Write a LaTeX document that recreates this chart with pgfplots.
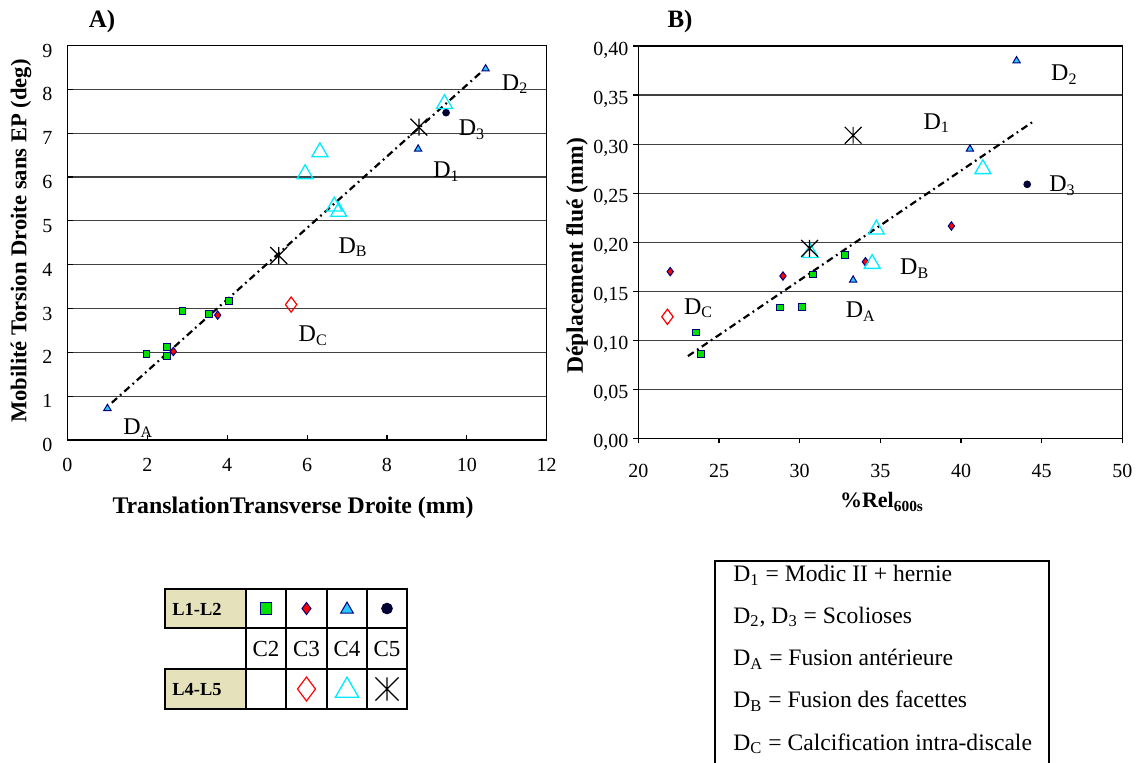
\documentclass[border=0pt]{standalone}
\usepackage{fontspec}
\setmainfont{Liberation Serif}
\usepackage{pgfplots}
\pgfplotsset{compat=1.18}

\definecolor{mgreen}{RGB}{0,225,0}
\definecolor{navyb}{RGB}{0,0,128}
\definecolor{tricyan}{RGB}{40,200,255}
\definecolor{dotnavy}{RGB}{0,0,50}
\definecolor{opcyan}{RGB}{0,235,255}
\definecolor{beige}{RGB}{228,225,187}

% asterisk as in the original: an X with a vertical bar
\pgfdeclareplotmark{xast}{%
  \pgfpathmoveto{\pgfqpoint{-\pgfplotmarksize}{-\pgfplotmarksize}}%
  \pgfpathlineto{\pgfqpoint{\pgfplotmarksize}{\pgfplotmarksize}}%
  \pgfpathmoveto{\pgfqpoint{-\pgfplotmarksize}{\pgfplotmarksize}}%
  \pgfpathlineto{\pgfqpoint{\pgfplotmarksize}{-\pgfplotmarksize}}%
  \pgfpathmoveto{\pgfqpoint{0pt}{-\pgfplotmarksize}}%
  \pgfpathlineto{\pgfqpoint{0pt}{\pgfplotmarksize}}%
  \pgfusepathqstroke}

\tikzset{
  dlab/.style={anchor=base west, inner sep=0pt, font=\fontsize{12}{14}\selectfont},
  note/.style={anchor=base west, inner sep=0pt, font=\fontsize{11.8}{13}\selectfont},
}
\pgfplotsset{
  sq/.style={only marks, mark=square*, mark size=#1, mark options={fill=mgreen, draw=navyb, line width=0.5pt}},
  dm/.style={only marks, mark=diamond*, mark size=#1, mark options={fill=red, draw=navyb, line width=0.5pt}},
  tr/.style={only marks, mark=triangle*, mark size=#1, mark options={fill=tricyan, draw=navyb, line width=0.5pt}},
  ci/.style={only marks, mark=*, mark size=#1, mark options={fill=dotnavy, draw=dotnavy}},
  odm/.style={only marks, mark=diamond, mark size=#1, mark options={draw=red, line width=0.6pt}},
  otr/.style={only marks, mark=triangle, mark size=#1, mark options={draw=opcyan, line width=0.65pt}},
  ast/.style={only marks, mark=xast, mark size=#1, mark options={draw=black, line width=0.6pt}},
  trend/.style={black, line width=1.1pt, dash pattern=on 3.5pt off 2pt on 0.9pt off 2pt, no marks},
  base/.style={scale only axis, anchor=south west, clip=false,
    axis line style={line width=0.7pt},
    ymajorgrids, grid style={black!75, line width=0.6pt},
    xtick pos=bottom, ytick pos=left, major tick length=2.5pt,
    tick style={black, line width=0.6pt},
    tick label style={font=\fontsize{10}{12}\selectfont},
    /pgf/number format/assume math mode=true},
}

\begin{document}
\begin{tikzpicture}
\path[use as bounding box] (0pt,0pt) rectangle (569.5pt,381pt);

% overlay in pixel units: titles, axis labels, symbol table, note box
\begin{axis}[at={(0pt,0pt)}, anchor=south west, scale only axis,
  width=569.5pt, height=381pt, xmin=0, xmax=1139, ymin=0, ymax=762,
  y dir=reverse, hide axis, clip=false]
  \node[font=\bfseries\fontsize{12.5}{14}\selectfont] at (102,21) {A)};
  \node[font=\bfseries\fontsize{12.5}{14}\selectfont] at (680,21) {B)};
  \node[font=\bfseries\fontsize{11.3}{13}\selectfont, rotate=90] at (21,241) {Mobilité Torsion Droite sans EP (deg)};
  \node[font=\bfseries\fontsize{11.8}{13}\selectfont, rotate=90] at (577,256) {Déplacement flué (mm)};
  \node[font=\bfseries\fontsize{11.9}{13}\selectfont] at (293,508) {TranslationTransverse Droite (mm)};
  \node[font=\bfseries\fontsize{11}{13}\selectfont] at (882,502) {\%Rel\textsubscript{600s}};

  % symbol table
  \fill[beige] (165,589) rectangle (246,628);
  \fill[beige] (165,669) rectangle (246,709);
  \draw[line width=0.9pt] (165,589) rectangle (407,628);
  \draw[line width=0.9pt] (165,669) rectangle (407,709);
  \draw[line width=0.9pt] (407,628) -- (407,669);
  \draw[line width=0.9pt] (246,589) -- (246,709);
  \draw[line width=0.9pt] (286,589) -- (286,709);
  \draw[line width=0.9pt] (327,589) -- (327,709);
  \draw[line width=0.9pt] (367,589) -- (367,709);
  \node[anchor=west, inner sep=0pt, font=\bfseries\fontsize{9.2}{11}\selectfont] at (172,609) {L1-L2};
  \node[anchor=west, inner sep=0pt, font=\bfseries\fontsize{9.2}{11}\selectfont] at (172,689.5) {L4-L5};
  \node[font=\fontsize{11.5}{13}\selectfont] at (266,649) {C2};
  \node[font=\fontsize{11.5}{13}\selectfont] at (306.5,649) {C3};
  \node[font=\fontsize{11.5}{13}\selectfont] at (347,649) {C4};
  \node[font=\fontsize{11.5}{13}\selectfont] at (387,649) {C5};
  \addplot[sq=2.9pt] coordinates {(266,608.5)};
  \addplot[dm=3pt] coordinates {(306.5,608.5)};
  \addplot[tr=3.7pt] coordinates {(347,609.5)};
  \addplot[ci=2.7pt] coordinates {(387,608.5)};
  \addplot[odm=6pt] coordinates {(306.5,689)};
  \addplot[otr=6.7pt] coordinates {(347,690.5)};
  \addplot[ast=5.8pt] coordinates {(387,689)};

  % note box
  \draw[line width=0.8pt] (715,800) -- (715,561) -- (1049,561) -- (1049,800);
  \node[note] at (733,581.7) {D\textsubscript{1} = Modic II + hernie};
  \node[note] at (733,623.3) {D\textsubscript{2}, D\textsubscript{3} = Scolioses};
  \node[note] at (733,665.7) {D\textsubscript{A} = Fusion antérieure};
  \node[note] at (733,707.7) {D\textsubscript{B} = Fusion des facettes};
  \node[note] at (733,750) {D\textsubscript{C} = Calcification intra-discale};
\end{axis}

% A) torsion mobility vs transverse translation
\begin{axis}[base, at={(33.75pt,161pt)}, width=239.6pt, height=197.2pt,
  xmin=0, xmax=12, ymin=0, ymax=9,
  xtick={0,2,...,12}, ytick={0,1,...,9}, tick align=inside,
  yticklabel style={xshift=-4pt, yshift=-2.5pt}, xticklabel style={yshift=-5.5pt}]
  \addplot[trend] coordinates {(1.11,0.85) (10.39,8.42)};
  \addplot[sq=1.7pt] coordinates {(1.98,1.97) (2.50,2.12) (2.50,1.91) (2.88,2.94) (3.54,2.88) (4.04,3.17)};
  \addplot[dm=2.1pt] coordinates {(2.65,2.02) (3.76,2.85)};
  \addplot[tr=2.1pt] coordinates {(1.00,0.72) (8.78,6.64) (10.47,8.47)};
  \addplot[ci=1.7pt] coordinates {(9.48,7.47)};
  \addplot[odm=3.8pt] coordinates {(5.60,3.09)};
  \addplot[otr=4.6pt] coordinates {(5.95,6.07) (6.32,6.57) (6.68,5.33) (6.79,5.21) (9.44,7.67)};
  \addplot[ast=4.2pt] coordinates {(5.29,4.21) (8.80,7.14)};
  \node[dlab] at (1.39,0.13) {D\textsubscript{A}};
  \node[dlab] at (5.78,2.25) {D\textsubscript{C}};
  \node[dlab] at (6.78,4.26) {D\textsubscript{B}};
  \node[dlab] at (9.15,5.98) {D\textsubscript{1}};
  \node[dlab] at (9.79,6.94) {D\textsubscript{3}};
  \node[dlab] at (10.87,7.98) {D\textsubscript{2}};
\end{axis}

% B) creep displacement vs %Rel600s
\begin{axis}[base, at={(319.2pt,161.8pt)}, width=242pt, height=196.2pt,
  xmin=20, xmax=50, ymin=0, ymax=0.4,
  xtick={20,25,...,50}, ytick={0,0.05,0.1,0.15,0.2,0.25,0.3,0.35,0.4},
  tick align=outside,
  yticklabel style={/pgf/number format/.cd, fixed, fixed zerofill, precision=2, use comma, /tikz/.cd, xshift=1pt, yshift=-2pt},
  xticklabel style={yshift=-7pt}]
  \addplot[trend] coordinates {(23.07,0.0839) (44.52,0.3235)};
  \addplot[sq=1.7pt] coordinates {(23.58,0.108) (23.89,0.086) (28.78,0.1335) (30.12,0.134) (30.8,0.167) (32.79,0.187)};
  \addplot[dm=2.1pt] coordinates {(21.97,0.170) (28.96,0.1655) (34.07,0.180) (39.4,0.2165)};
  \addplot[tr=2.1pt] coordinates {(33.31,0.1614) (40.55,0.295) (43.44,0.385)};
  \addplot[ci=1.7pt] coordinates {(44.1,0.259)};
  \addplot[odm=3.8pt] coordinates {(21.8,0.124)};
  \addplot[otr=4.6pt] coordinates {(30.66,0.189) (34.49,0.178) (34.75,0.213) (41.35,0.2746)};
  \addplot[ast=4.2pt] coordinates {(30.61,0.1937) (33.31,0.309)};
  \node[dlab] at (22.81,0.1265) {D\textsubscript{C}};
  \node[dlab] at (32.83,0.123) {D\textsubscript{A}};
  \node[dlab] at (36.2,0.167) {D\textsubscript{B}};
  \node[dlab] at (45.45,0.2516) {D\textsubscript{3}};
  \node[dlab] at (37.65,0.315) {D\textsubscript{1}};
  \node[dlab] at (45.56,0.3645) {D\textsubscript{2}};
\end{axis}
\end{tikzpicture}
\end{document}
